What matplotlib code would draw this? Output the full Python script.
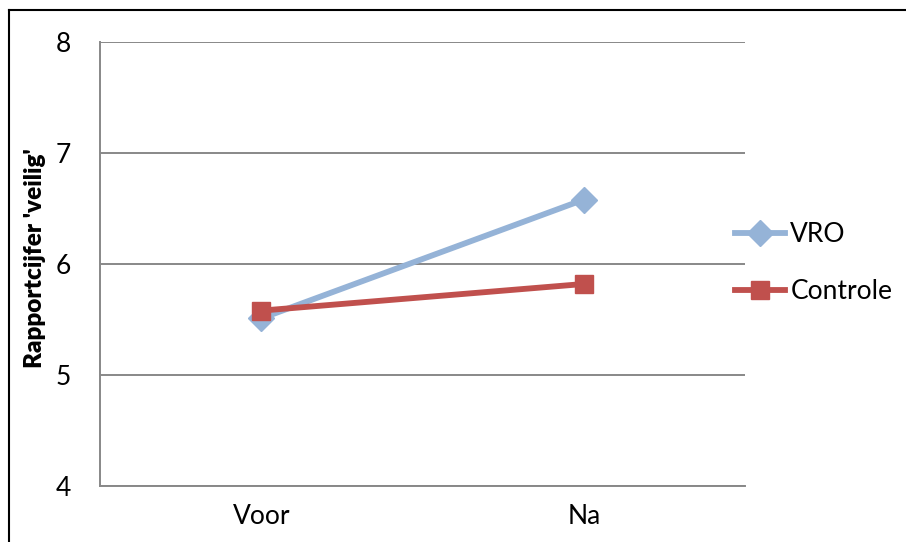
import matplotlib
matplotlib.use("Agg")
import matplotlib.pyplot as plt
from matplotlib.lines import Line2D

plt.rcParams['font.family'] = ['Lato', 'DejaVu Sans']

categories = ["Voor", "Na"]
vro = [5.51, 6.58]
controle = [5.58, 5.82]
y_ticks = [4, 5, 6, 7, 8]

W, H = 906, 542
fig = plt.figure(figsize=(W / 100, H / 100), dpi=100)
ax = fig.add_axes([100 / W, 1 - 486 / H, 645 / W, 444 / H])

x = list(range(len(categories)))
ax.plot(x, vro, color="#95b3d7", lw=4.2, marker="D", markersize=13,
        markerfacecolor="#95b3d7", markeredgecolor="#95b3d7", label="VRO", zorder=3)
ax.plot(x, controle, color="#c0504d", lw=4.2, marker="s", markersize=13.5,
        markerfacecolor="#c0504d", markeredgecolor="#c0504d", label="Controle", zorder=4)

ax.set_xlim(-0.5, 1.5)
ax.set_ylim(4, 8)
ax.set_yticks(y_ticks)
ax.set_yticklabels([str(t) for t in y_ticks])
ax.set_xticks(x)
ax.set_xticklabels(categories)
ax.tick_params(axis="both", length=0, labelsize=19, colors="black")
ax.tick_params(axis="y", pad=21)
ax.tick_params(axis="x", pad=13)

ax.grid(axis="y", color="#888888", lw=1.4)
ax.set_axisbelow(True)
for side in ["top", "right"]:
    ax.spines[side].set_visible(False)
for side in ["left", "bottom"]:
    ax.spines[side].set_color("#888888")
    ax.spines[side].set_linewidth(1.4)

fig.text(35 / W, 1 - 258 / H, "Rapportcijfer 'veilig'", rotation=90,
         ha="center", va="center", fontsize=17.5, fontweight="heavy")

fig.legend(loc="center left", bbox_to_anchor=(735 / W, 1 - 263 / H), frameon=False,
           fontsize=19, handlelength=1.9, handletextpad=0.2, labelspacing=1.2,
           borderpad=0, borderaxespad=0)

# outer chart frame (top and left edges)
fig.add_artist(Line2D([9 / W, 9 / W], [0, 1 - 10 / H], color="black", lw=1.5,
                      transform=fig.transFigure))
fig.add_artist(Line2D([9 / W, 1], [1 - 10 / H, 1 - 10 / H], color="black", lw=1.5,
                      transform=fig.transFigure))

fig.savefig("out.png", dpi=100, facecolor="white")
